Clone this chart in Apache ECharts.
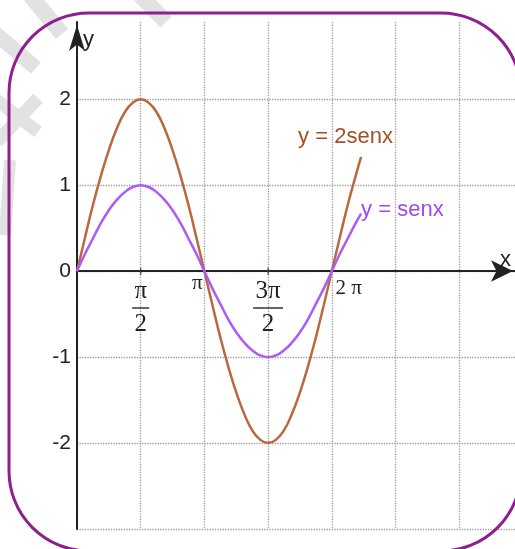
<!DOCTYPE html>
<html>
<head>
<meta charset="utf-8">
<script src="https://cdn.jsdelivr.net/npm/echarts@6/dist/echarts.min.js"></script>
<style>
  html, body { margin: 0; padding: 0; background: #fff; }
  #chart { width: 515px; height: 549px; }
</style>
</head>
<body>
<div id="chart"></div>
<script>
// x en múltiplos de π (paso π/16)
const xPi = [0, 0.0625, 0.125, 0.1875, 0.25, 0.3125, 0.375, 0.4375, 0.5, 0.5625, 0.625, 0.6875, 0.75, 0.8125, 0.875, 0.9375,
  1, 1.0625, 1.125, 1.1875, 1.25, 1.3125, 1.375, 1.4375, 1.5, 1.5625, 1.625, 1.6875, 1.75, 1.8125, 1.875, 1.9375,
  2, 2.0625, 2.125, 2.1875, 2.23];
const senx = [0, 0.2, 0.38, 0.56, 0.71, 0.83, 0.92, 0.98, 1, 0.98, 0.92, 0.83, 0.71, 0.56, 0.38, 0.2,
  0, -0.2, -0.38, -0.56, -0.71, -0.83, -0.92, -0.98, -1, -0.98, -0.92, -0.83, -0.71, -0.56, -0.38, -0.2,
  0, 0.2, 0.38, 0.56, 0.67];
const dosSenx = [0, 0.39, 0.77, 1.11, 1.41, 1.66, 1.85, 1.96, 2, 1.96, 1.85, 1.66, 1.41, 1.11, 0.77, 0.39,
  0, -0.39, -0.77, -1.11, -1.41, -1.66, -1.85, -1.96, -2, -1.96, -1.85, -1.66, -1.41, -1.11, -0.77, -0.39,
  0, 0.39, 0.77, 1.11, 1.33];
const yTickValues = [-2, -1, 0, 1, 2];
const xTickValues = [0.5, 1, 1.5, 2];
const xTickTexts = ['{n|π}\n{bar1|}\n{d|2}', '{p1|π}', '{n|3π}\n{bar3|}\n{d|2}', '{p2|2 π}'];
const xTickMarks = [0.5, 1.5];

const chart = echarts.init(document.getElementById('chart'));

const grid = '#9a9a9a';
const axisColor = '#222';
const serif = 'Liberation Serif';

chart.setOption({
  animation: false,
  grid: { left: 77, top: 22, right: 0, bottom: 20, containLabel: false, outerBoundsMode: 'none' },
  xAxis: {
    type: 'value',
    min: 0,
    max: 3.438,
    interval: 0.5,
    offset: -258,
    axisLine: {
      onZero: false,
      symbol: ['none', 'arrow'],
      symbolSize: [16, 22],
      symbolOffset: [0, -2],
      lineStyle: { color: axisColor, width: 2 }
    },
    axisTick: { show: false },
    splitLine: { show: true, showMaxLine: false, lineStyle: { type: 'dotted', color: grid, width: 1.3 } },
    axisLabel: {
      margin: 9,
      showMaxLabel: false,
      formatter: function (v) {
        for (let i = 0; i < xTickValues.length; i++) {
          if (Math.abs(v - xTickValues[i]) < 1e-6) return xTickTexts[i];
        }
        return '';
      },
      rich: {
        n: { fontFamily: serif, fontSize: 25, color: '#222', lineHeight: 22 },
        bar1: { width: 17, height: 1.5, backgroundColor: '#333', lineHeight: 12 },
        bar3: { width: 30, height: 1.5, backgroundColor: '#333', lineHeight: 12 },
        d: { fontFamily: serif, fontSize: 25, color: '#222', lineHeight: 20 },
        p1: { fontFamily: serif, fontSize: 21, color: '#222', lineHeight: 6, padding: [0, 14, 0, 0] },
        p2: { fontFamily: serif, fontSize: 21, color: '#222', lineHeight: 16, padding: [0, 0, 0, 34] }
      }
    }
  },
  yAxis: {
    type: 'value',
    min: -3,
    max: 2.9,
    interval: 1,
    axisLine: {
      show: true,
      symbol: ['none', 'arrow'],
      symbolSize: [12, 26],
      symbolOffset: [0, -3],
      lineStyle: { color: axisColor, width: 2 }
    },
    axisTick: { show: false },
    splitLine: { show: true, showMaxLine: false, lineStyle: { type: 'dotted', color: grid, width: 1.3 } },
    axisLabel: {
      margin: 6,
      fontFamily: 'Liberation Sans',
      fontSize: 21,
      color: '#222',
      formatter: function (v) {
        return yTickValues.indexOf(v) >= 0 ? String(v) : '';
      }
    }
  },
  graphic: [
    // marca de agua
    { type: 'line', z: -1, shape: { x1: 30, y1: -5, x2: 62, y2: 34 }, style: { stroke: '#e2e2e2', lineWidth: 16 } },
    { type: 'line', z: -1, shape: { x1: -5, y1: 33, x2: 36, y2: 68 }, style: { stroke: '#e2e2e2', lineWidth: 15 } },
    { type: 'line', z: -1, shape: { x1: -3, y1: 100, x2: 38, y2: 132 }, style: { stroke: '#e2e2e2', lineWidth: 13 } },
    { type: 'line', z: -1, shape: { x1: 38, y1: 98, x2: -3, y2: 142 }, style: { stroke: '#e2e2e2', lineWidth: 13 } },
    { type: 'line', z: -1, shape: { x1: 10, y1: 160, x2: 5, y2: 235 }, style: { stroke: '#e2e2e2', lineWidth: 12 } },
    { type: 'line', z: -1, shape: { x1: 140, y1: -5, x2: 166, y2: 22 }, style: { stroke: '#e2e2e2', lineWidth: 16 } },
    // marco
    {
      type: 'rect', z: 10,
      shape: { x: 9, y: 13, width: 512, height: 538, r: 80 },
      style: { fill: 'none', stroke: '#8e1f8e', lineWidth: 3 }
    },
    { type: 'text', z: 10, left: 83, top: 29, style: { text: 'y', fontFamily: 'Liberation Sans', fontSize: 22, fill: '#222' } },
    { type: 'text', z: 10, left: 500, top: 249, style: { text: 'x', fontFamily: 'Liberation Sans', fontSize: 22, fill: '#222' } }
  ],
  series: [
    {
      name: 'y = 2senx',
      type: 'line',
      smooth: true,
      showSymbol: false,
      data: xPi.map((x, i) => [x, dosSenx[i]]),
      lineStyle: { color: '#b9693f', width: 2.5 },
      itemStyle: { color: '#b9693f' },
      endLabel: {
        show: true,
        formatter: 'y = 2senx',
        fontFamily: 'Liberation Sans',
        fontSize: 22,
        color: '#a54f25',
        offset: [-71, -20]
      }
    },
    {
      name: 'y = senx',
      type: 'line',
      smooth: true,
      showSymbol: false,
      data: xPi.map((x, i) => [x, senx[i]]),
      lineStyle: { color: '#ab5cf6', width: 2.5 },
      itemStyle: { color: '#ab5cf6' },
      endLabel: {
        show: true,
        formatter: 'y = senx',
        fontFamily: 'Liberation Sans',
        fontSize: 22,
        color: '#9c4af2',
        offset: [-8, -4]
      }
    },
    {
      name: 'marcas',
      type: 'scatter',
      symbol: 'rect',
      symbolSize: [1.5, 7],
      z: 5,
      silent: true,
      itemStyle: { color: '#8b1a1a' },
      data: xTickMarks.map((x) => [x, 0])
    }
  ]
});
</script>
</body>
</html>
